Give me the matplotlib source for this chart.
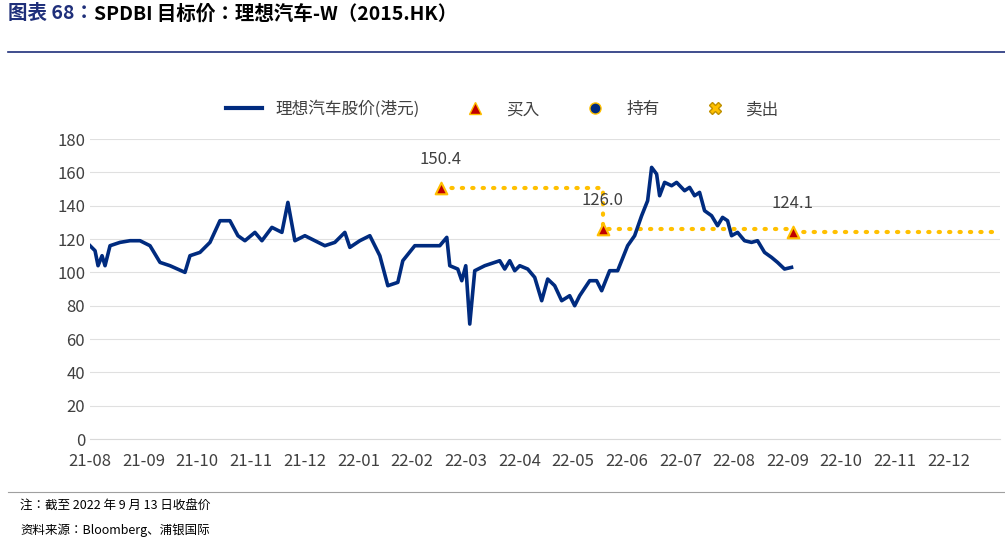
import matplotlib.pyplot as plt
from matplotlib.lines import Line2D

plt.rcParams["font.family"] = ["Noto Sans CJK SC", "Noto Sans CJK JP", "Noto Sans CJK TC",
                               "Noto Sans CJK KR", "DejaVu Sans"]

# ==============================
# Data (x in months since 2021-08)
# ==============================
month_labels = ["21-08", "21-09", "21-10", "21-11", "21-12", "22-01", "22-02", "22-03",
                "22-04", "22-05", "22-06", "22-07", "22-08", "22-09", "22-10", "22-11", "22-12"]

price_px = [90, 95, 98, 102, 105, 110, 120, 130, 140, 150, 160, 170, 185, 190, 200, 210, 220,
            230, 238, 245, 255, 262, 272, 282, 288, 295, 305, 315, 325, 335, 345, 350, 360, 370,
            380, 388, 398, 403, 415, 428, 440, 447, 450, 458, 462, 466, 470, 475, 485, 500, 505,
            510, 515, 520, 528, 535, 542, 548, 555, 562, 570, 575, 580, 590, 597, 602, 610, 618,
            628, 635, 642, 648, 652, 657, 660, 665, 672, 677, 685, 690, 695, 700, 705, 712, 718,
            723, 728, 732, 738, 745, 752, 758, 765, 772, 778, 785, 792]
price = [116, 113, 104, 110, 104, 116, 118, 119, 119, 116, 106, 104, 100, 110, 112, 118, 131,
         131, 122, 119, 124, 119, 127, 124, 142, 119, 122, 119, 116, 118, 124, 115, 119, 122,
         110, 92, 94, 107, 116, 116, 116, 121, 104, 102, 95, 104, 69, 101, 104, 107, 102,
         107, 101, 104, 102, 97, 83, 96, 92, 83, 86, 80, 86, 95, 95, 89, 101, 101,
         116, 122, 134, 143, 163, 159, 146, 154, 152, 154, 149, 151, 146, 148, 137, 134, 128,
         133, 131, 122, 124, 119, 118, 119, 112, 109, 106, 102, 103]
price_x = [(p - 90) / 53.7 for p in price_px]

buy_x = [(441 - 90) / 53.7, (603 - 90) / 53.7, (793 - 90) / 53.7]
buy_y = [150.4, 126.0, 124.1]
x_end = 16.95

fig = plt.figure(figsize=(10.05, 5.39), dpi=100)
ax = fig.add_axes([0.0896, 0.1855, 0.905, 0.5565])

ax.plot(price_x, price, color="#002B7F", lw=2.6, zorder=3)

# target price steps
tx, ty = [], []
for i in range(len(buy_x)):
    nx = buy_x[i + 1] if i + 1 < len(buy_x) else x_end
    tx += [buy_x[i], nx]
    ty += [buy_y[i], buy_y[i]]
ax.plot(tx, ty, color="#FFC000", lw=3, ls=(0, (0.3, 2.2)), dash_capstyle="round", zorder=2)
ax.scatter(buy_x, buy_y, marker="^", s=70, color="#C00000", edgecolors="#FFC000",
           linewidths=1.5, zorder=4)
for x, y in zip(buy_x, buy_y):
    ax.text(x, y + 12, f"{y:.1f}", ha="center", va="bottom", fontsize=12, color="#404040")

ax.set_xlim(0, x_end)
ax.set_ylim(0, 180)
ax.set_yticks(range(0, 181, 20))
ax.set_xticks(range(len(month_labels)))
ax.set_xticklabels(month_labels)
ax.tick_params(length=0, labelsize=12, colors="#404040")
ax.tick_params(axis="x", pad=10)
ax.grid(axis="y", color="#E0E0E0", lw=0.8)
ax.set_axisbelow(True)
for s in ["top", "right", "left"]:
    ax.spines[s].set_visible(False)
ax.spines["bottom"].set_color("#D9D9D9")

handles = [
    Line2D([], [], color="#002B7F", lw=3),
    Line2D([], [], marker="^", ls="", color="#C00000", mec="#FFC000", ms=8),
    Line2D([], [], marker="o", ls="", color="#002B7F", mec="#FFC000", ms=8),
    Line2D([], [], marker="X", ls="", color="#FFC000", mec="#BF9000", ms=9),
]
fig.legend(handles, ["理想汽车股价(港元)", "买入", "持有", "卖出"], loc="center",
           bbox_to_anchor=(0.5, 0.797), ncol=4, frameon=False, fontsize=12,
           handlelength=2.2, columnspacing=2.2, labelcolor="#404040")

t1 = fig.text(0.008, 0.975, "图表 68：", fontsize=14, fontweight="bold", color="#1F2F7A", va="center")
fig.canvas.draw()
bb = t1.get_window_extent().transformed(fig.transFigure.inverted())
fig.text(bb.x1, 0.975, "SPDBI 目标价：理想汽车-W（2015.HK）", fontsize=14, fontweight="bold",
         color="black", va="center")
fig.add_artist(Line2D([0.008, 1.0], [0.903, 0.903], color="#1F2F7A", lw=1.2))
fig.add_artist(Line2D([0.008, 1.0], [0.087, 0.087], color="#A0A0A0", lw=0.8))
fig.text(0.02, 0.06, "注：截至 2022 年 9 月 13 日收盘价", fontsize=9, va="center")
fig.text(0.02, 0.017, "资料来源：Bloomberg、浦银国际", fontsize=9, va="center")

fig.savefig("out.png", dpi=100)
